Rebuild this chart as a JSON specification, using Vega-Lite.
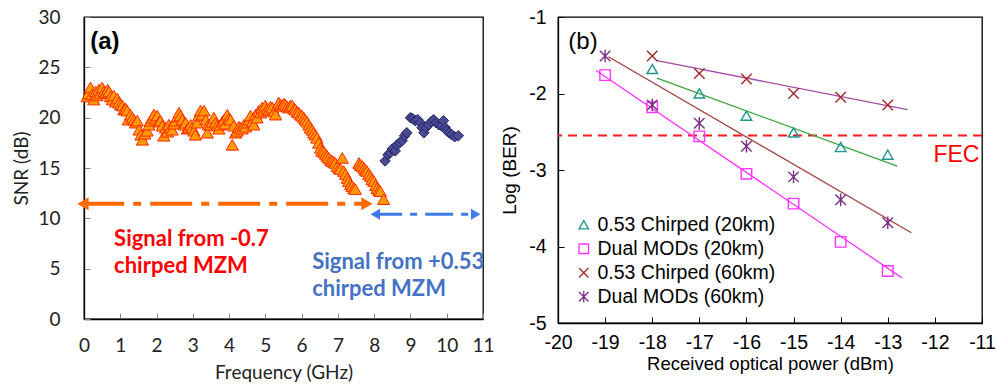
{
  "$schema": "https://vega.github.io/schema/vega-lite/v6.json",
  "padding": {"left": 12, "top": 6, "right": 0, "bottom": 0},
  "spacing": 5,
  "resolve": {"scale": {"color": "independent", "shape": "independent", "stroke": "independent"}, "legend": {"color": "independent", "shape": "independent"}},
  "config": {
    "view": {"stroke": "#000", "strokeWidth": 1.3},
    "axis": {"grid": false, "domainColor": "#000", "domainWidth": 1.3, "labelOverlap": false, "labelFlush": false}
  },
  "datasets": {
    "tri": [
      {"f":0.09,"snr":22.1},{"f":0.12,"snr":22.4},{"f":0.18,"snr":23.0},{"f":0.22,"snr":22.3},{"f":0.27,"snr":21.8},{"f":0.32,"snr":22.6},{"f":0.36,"snr":22.2},{"f":0.41,"snr":22.8},{"f":0.45,"snr":22.4},{"f":0.5,"snr":23.0},{"f":0.55,"snr":22.6},{"f":0.6,"snr":22.5},{"f":0.65,"snr":22.8},{"f":0.69,"snr":22.6},{"f":0.73,"snr":22.1},{"f":0.78,"snr":21.8},{"f":0.82,"snr":22.2},{"f":0.87,"snr":21.6},{"f":0.92,"snr":21.9},{"f":0.96,"snr":21.5},{"f":1.01,"snr":21.3},{"f":1.06,"snr":21.2},{"f":1.1,"snr":20.8},{"f":1.15,"snr":20.9},{"f":1.19,"snr":20.7},{"f":1.22,"snr":19.8},{"f":1.28,"snr":20.3},{"f":1.33,"snr":20.0},{"f":1.38,"snr":19.8},{"f":1.42,"snr":19.5},{"f":1.47,"snr":19.7},{"f":1.52,"snr":18.8},{"f":1.57,"snr":18.3},{"f":1.61,"snr":17.8},{"f":1.68,"snr":18.4},{"f":1.74,"snr":18.7},{"f":1.79,"snr":19.3},{"f":1.83,"snr":19.7},{"f":1.88,"snr":20.0},{"f":1.93,"snr":20.3},{"f":1.97,"snr":19.9},{"f":2.02,"snr":20.2},{"f":2.07,"snr":19.6},{"f":2.11,"snr":19.7},{"f":2.16,"snr":19.2},{"f":2.2,"snr":18.2},{"f":2.25,"snr":19.0},{"f":2.3,"snr":18.6},{"f":2.34,"snr":19.3},{"f":2.39,"snr":19.0},{"f":2.43,"snr":18.8},{"f":2.48,"snr":19.4},{"f":2.52,"snr":19.7},{"f":2.57,"snr":20.1},{"f":2.62,"snr":20.5},{"f":2.66,"snr":20.2},{"f":2.71,"snr":19.8},{"f":2.76,"snr":19.3},{"f":2.8,"snr":19.5},{"f":2.85,"snr":18.9},{"f":2.89,"snr":19.0},{"f":2.94,"snr":19.3},{"f":2.98,"snr":19.0},{"f":3.03,"snr":18.7},{"f":3.07,"snr":18.3},{"f":3.12,"snr":19.5},{"f":3.16,"snr":20.2},{"f":3.21,"snr":20.7},{"f":3.26,"snr":20.3},{"f":3.31,"snr":20.7},{"f":3.36,"snr":19.8},{"f":3.4,"snr":18.5},{"f":3.43,"snr":19.3},{"f":3.49,"snr":19.3},{"f":3.54,"snr":19.6},{"f":3.58,"snr":20.0},{"f":3.63,"snr":19.5},{"f":3.67,"snr":19.2},{"f":3.72,"snr":18.9},{"f":3.76,"snr":19.3},{"f":3.81,"snr":19.6},{"f":3.86,"snr":19.8},{"f":3.9,"snr":19.4},{"f":3.95,"snr":20.3},{"f":4.0,"snr":19.9},{"f":4.04,"snr":19.8},{"f":4.09,"snr":17.3},{"f":4.13,"snr":19.2},{"f":4.18,"snr":18.5},{"f":4.22,"snr":18.7},{"f":4.27,"snr":19.1},{"f":4.31,"snr":19.0},{"f":4.36,"snr":18.9},{"f":4.41,"snr":19.3},{"f":4.45,"snr":19.1},{"f":4.5,"snr":19.5},{"f":4.55,"snr":19.8},{"f":4.59,"snr":20.2},{"f":4.64,"snr":19.6},{"f":4.68,"snr":19.3},{"f":4.73,"snr":20.3},{"f":4.77,"snr":20.0},{"f":4.82,"snr":20.7},{"f":4.87,"snr":20.5},{"f":4.91,"snr":21.0},{"f":4.96,"snr":20.7},{"f":5.0,"snr":21.2},{"f":5.05,"snr":20.9},{"f":5.1,"snr":20.8},{"f":5.14,"snr":21.1},{"f":5.19,"snr":21.0},{"f":5.24,"snr":20.6},{"f":5.28,"snr":20.3},{"f":5.33,"snr":21.2},{"f":5.37,"snr":21.5},{"f":5.42,"snr":21.3},{"f":5.46,"snr":21.2},{"f":5.51,"snr":21.4},{"f":5.55,"snr":21.3},{"f":5.6,"snr":21.1},{"f":5.65,"snr":21.0},{"f":5.69,"snr":21.2},{"f":5.74,"snr":21.2},{"f":5.79,"snr":20.9},{"f":5.83,"snr":20.8},{"f":5.88,"snr":20.6},{"f":5.92,"snr":20.5},{"f":5.97,"snr":20.3},{"f":6.01,"snr":20.2},{"f":6.06,"snr":20.0},{"f":6.1,"snr":19.8},{"f":6.15,"snr":19.6},{"f":6.2,"snr":19.3},{"f":6.24,"snr":19.0},{"f":6.29,"snr":18.8},{"f":6.33,"snr":18.5},{"f":6.38,"snr":18.3},{"f":6.42,"snr":18.0},{"f":6.47,"snr":17.5},{"f":6.52,"snr":17.0},{"f":6.56,"snr":16.7},{"f":6.61,"snr":16.6},{"f":6.66,"snr":16.4},{"f":6.7,"snr":16.2},{"f":6.75,"snr":16.0},{"f":6.8,"snr":15.8},{"f":6.84,"snr":15.7},{"f":6.89,"snr":15.6},{"f":6.93,"snr":15.5},{"f":6.98,"snr":15.2},{"f":7.03,"snr":15.0},{"f":7.07,"snr":14.9},{"f":7.12,"snr":16.0},{"f":7.16,"snr":14.7},{"f":7.21,"snr":14.4},{"f":7.26,"snr":14.0},{"f":7.3,"snr":13.7},{"f":7.35,"snr":13.4},{"f":7.39,"snr":13.2},{"f":7.44,"snr":13.0},{"f":7.48,"snr":12.9},{"f":7.58,"snr":15.5},{"f":7.62,"snr":15.3},{"f":7.67,"snr":15.2},{"f":7.72,"snr":15.0},{"f":7.76,"snr":14.8},{"f":7.8,"snr":14.7},{"f":7.85,"snr":14.4},{"f":7.9,"snr":14.2},{"f":7.94,"snr":13.9},{"f":7.99,"snr":13.7},{"f":8.04,"snr":13.3},{"f":8.08,"snr":13.0},{"f":8.13,"snr":12.8},{"f":8.17,"snr":12.7},{"f":8.26,"snr":11.9}
    ],
    "dia": [
      {"f":8.3,"snr":15.7},{"f":8.38,"snr":16.3},{"f":8.44,"snr":16.5},{"f":8.5,"snr":16.9},{"f":8.58,"snr":16.7},{"f":8.63,"snr":17.3},{"f":8.7,"snr":17.5},{"f":8.77,"snr":17.7},{"f":8.84,"snr":18.2},{"f":8.9,"snr":18.5},{"f":9.0,"snr":20.0},{"f":9.06,"snr":19.9},{"f":9.13,"snr":19.7},{"f":9.2,"snr":19.8},{"f":9.27,"snr":19.5},{"f":9.32,"snr":19.0},{"f":9.37,"snr":18.5},{"f":9.43,"snr":19.0},{"f":9.5,"snr":19.3},{"f":9.57,"snr":19.6},{"f":9.64,"snr":19.8},{"f":9.71,"snr":19.5},{"f":9.78,"snr":19.3},{"f":9.85,"snr":19.2},{"f":9.91,"snr":19.7},{"f":9.96,"snr":19.0},{"f":10.0,"snr":18.7},{"f":10.07,"snr":18.5},{"f":10.14,"snr":18.3},{"f":10.22,"snr":18.1},{"f":10.32,"snr":18.2}
    ],
    "ber": [
      {"p":-18,"ber":-1.68,"s":"0.53 Chirped (20km)"},{"p":-17,"ber":-2.0,"s":"0.53 Chirped (20km)"},{"p":-16,"ber":-2.29,"s":"0.53 Chirped (20km)"},{"p":-15,"ber":-2.51,"s":"0.53 Chirped (20km)"},{"p":-14,"ber":-2.7,"s":"0.53 Chirped (20km)"},{"p":-13,"ber":-2.8,"s":"0.53 Chirped (20km)"},
      {"p":-19,"ber":-1.76,"s":"Dual MODs (20km)"},{"p":-18,"ber":-2.18,"s":"Dual MODs (20km)"},{"p":-17,"ber":-2.56,"s":"Dual MODs (20km)"},{"p":-16,"ber":-3.05,"s":"Dual MODs (20km)"},{"p":-15,"ber":-3.44,"s":"Dual MODs (20km)"},{"p":-14,"ber":-3.94,"s":"Dual MODs (20km)"},{"p":-13,"ber":-4.32,"s":"Dual MODs (20km)"},
      {"p":-18,"ber":-1.51,"s":"0.53 Chirped (60km)"},{"p":-17,"ber":-1.74,"s":"0.53 Chirped (60km)"},{"p":-16,"ber":-1.81,"s":"0.53 Chirped (60km)"},{"p":-15,"ber":-2.0,"s":"0.53 Chirped (60km)"},{"p":-14,"ber":-2.05,"s":"0.53 Chirped (60km)"},{"p":-13,"ber":-2.15,"s":"0.53 Chirped (60km)"},
      {"p":-19,"ber":-1.51,"s":"Dual MODs (60km)"},{"p":-18,"ber":-2.15,"s":"Dual MODs (60km)"},{"p":-17,"ber":-2.39,"s":"Dual MODs (60km)"},{"p":-16,"ber":-2.69,"s":"Dual MODs (60km)"},{"p":-15,"ber":-3.09,"s":"Dual MODs (60km)"},{"p":-14,"ber":-3.39,"s":"Dual MODs (60km)"},{"p":-13,"ber":-3.69,"s":"Dual MODs (60km)"}
    ],
    "fits": [
      {"p":-17.9,"ber":-1.8,"fit":"a"},{"p":-12.8,"ber":-2.95,"fit":"a"},
      {"p":-19.19,"ber":-1.7,"fit":"b"},{"p":-12.7,"ber":-4.41,"fit":"b"},
      {"p":-17.9,"ber":-1.57,"fit":"c"},{"p":-12.58,"ber":-2.21,"fit":"c"},
      {"p":-18.93,"ber":-1.52,"fit":"d"},{"p":-12.5,"ber":-3.82,"fit":"d"}
    ]
  },
  "hconcat": [
    {
      "width": 399,
      "height": 302,
      "layer": [
        {
          "data": {"name": "tri"},
          "mark": {"type": "point", "shape": "triangle-up", "filled": true, "fill": "#ff9a00", "stroke": "#ff2a00", "strokeWidth": 1, "size": 150, "opacity": 1},
          "encoding": {
            "x": {"field": "f", "type": "quantitative", "scale": {"domain": [0, 11], "nice": false},
              "axis": {"title": "Frequency (GHz)", "values": [0,1,2,3,4,5,6,7,8,9,10,11], "tickCount": 12, "labelExpr": "'' + datum.value", "labelOverlap": false, "labelFlush": false, "tickSize": -6, "tickColor": "#888", "labelFont": "Lato", "labelFontSize": 19, "labelColor": "#222", "labelPadding": 23, "titleFont": "Lato", "titleFontSize": 19, "titleFontWeight": "normal", "titleColor": "#222", "titlePadding": 8}},
            "y": {"field": "snr", "type": "quantitative", "scale": {"domain": [0, 30], "nice": false},
              "axis": {"title": "SNR (dB)", "values": [0,5,10,15,20,25,30], "labelExpr": "'' + datum.value", "labelOverlap": false, "labelFlush": false, "tickSize": -6, "tickColor": "#888", "labelFont": "Lato", "labelFontSize": 19, "labelColor": "#222", "labelPadding": 30, "titleFont": "Lato", "titleFontSize": 19, "titleFontWeight": "normal", "titleColor": "#222", "titlePadding": 6}}
          }
        },
        {
          "data": {"name": "dia"},
          "mark": {"type": "point", "shape": "diamond", "filled": true, "fill": "#4b4b8f", "stroke": "#22226e", "strokeWidth": 1, "size": 110, "opacity": 1},
          "encoding": {
            "x": {"field": "f", "type": "quantitative"},
            "y": {"field": "snr", "type": "quantitative"}
          }
        },
        {
          "data": {"values": [{"f": -0.05, "f2": 7.8, "snr": 11.45}]},
          "mark": {"type": "rule", "color": "#ff6a00", "strokeWidth": 4, "strokeDash": [42, 9, 8, 9]},
          "encoding": {
            "x": {"field": "f", "type": "quantitative"},
            "x2": {"field": "f2"},
            "y": {"field": "snr", "type": "quantitative"}
          }
        },
        {
          "data": {"values": [{"f": -0.03, "snr": 11.45}]},
          "mark": {"type": "point", "shape": "triangle-left", "filled": true, "color": "#ff6a00", "size": 170, "opacity": 1},
          "encoding": {
            "x": {"field": "f", "type": "quantitative"},
            "y": {"field": "snr", "type": "quantitative"}
          }
        },
        {
          "data": {"values": [{"f": 7.8, "snr": 11.45}]},
          "mark": {"type": "point", "shape": "triangle-right", "filled": true, "color": "#ff6a00", "size": 170, "opacity": 1},
          "encoding": {
            "x": {"field": "f", "type": "quantitative"},
            "y": {"field": "snr", "type": "quantitative"}
          }
        },
        {
          "data": {"values": [{"f": 8.0, "f2": 10.8, "snr": 10.4}]},
          "mark": {"type": "rule", "color": "#3f7be8", "strokeWidth": 3, "strokeDash": [28, 8, 7, 8]},
          "encoding": {
            "x": {"field": "f", "type": "quantitative"},
            "x2": {"field": "f2"},
            "y": {"field": "snr", "type": "quantitative"}
          }
        },
        {
          "data": {"values": [{"f": 8.03, "snr": 10.4}]},
          "mark": {"type": "point", "shape": "triangle-left", "filled": true, "color": "#3f7be8", "size": 120, "opacity": 1},
          "encoding": {
            "x": {"field": "f", "type": "quantitative"},
            "y": {"field": "snr", "type": "quantitative"}
          }
        },
        {
          "data": {"values": [{"f": 10.8, "snr": 10.4}]},
          "mark": {"type": "point", "shape": "triangle-right", "filled": true, "color": "#3f7be8", "size": 120, "opacity": 1},
          "encoding": {
            "x": {"field": "f", "type": "quantitative"},
            "y": {"field": "snr", "type": "quantitative"}
          }
        },
        {
          "data": {"values": [{"f": 0.83, "snr": 7.25, "t": "Signal from -0.7"}, {"f": 0.83, "snr": 4.6, "t": "chirped MZM"}]},
          "mark": {"type": "text", "align": "left", "baseline": "alphabetic", "font": "Lato", "fontSize": 22, "fontWeight": "bold", "color": "#ff0000"},
          "encoding": {
            "x": {"field": "f", "type": "quantitative"},
            "y": {"field": "snr", "type": "quantitative"},
            "text": {"field": "t"}
          }
        },
        {
          "data": {"values": [{"f": 6.29, "snr": 4.93, "t": "Signal from +0.53"}, {"f": 6.29, "snr": 2.28, "t": "chirped MZM"}]},
          "mark": {"type": "text", "align": "left", "baseline": "alphabetic", "font": "Lato", "fontSize": 22, "fontWeight": "bold", "color": "#4472c4"},
          "encoding": {
            "x": {"field": "f", "type": "quantitative"},
            "y": {"field": "snr", "type": "quantitative"},
            "text": {"field": "t"}
          }
        },
        {
          "data": {"values": [{"f": 0.17, "snr": 26.8, "t": "(a)"}]},
          "mark": {"type": "text", "align": "left", "baseline": "alphabetic", "font": "Liberation Sans", "fontSize": 24, "fontWeight": "bold", "color": "#000"},
          "encoding": {
            "x": {"field": "f", "type": "quantitative"},
            "y": {"field": "snr", "type": "quantitative"},
            "text": {"field": "t"}
          }
        }
      ]
    },
    {
      "width": 424,
      "height": 306,
      "layer": [
        {
          "data": {"values": [{"ber": -2.55}]},
          "mark": {"type": "rule", "color": "#ff1a1a", "strokeWidth": 2, "strokeDash": [9, 6]},
          "encoding": {
            "y": {"field": "ber", "type": "quantitative", "scale": {"domain": [-5, -1], "nice": false},
              "axis": {"title": "Log (BER)", "values": [-5,-4,-3,-2,-1], "labelExpr": "'' + datum.value", "labelOverlap": false, "labelFlush": false, "tickSize": -6, "tickColor": "#000", "labelFont": "Liberation Sans", "labelFontSize": 19.5, "labelColor": "#000", "labelPadding": 18, "titleFont": "Liberation Sans", "titleFontSize": 19, "titleFontWeight": "normal", "titleColor": "#000", "titlePadding": 9}}
          }
        },
        {
          "data": {"name": "fits"},
          "mark": {"type": "line", "strokeWidth": 1.3},
          "encoding": {
            "x": {"field": "p", "type": "quantitative", "scale": {"domain": [-20, -11], "nice": false},
              "axis": {"title": "Received optical power (dBm)", "values": [-20,-19,-18,-17,-16,-15,-14,-13,-12,-11], "labelExpr": "'' + datum.value", "labelOverlap": false, "labelFlush": false, "tickSize": -6, "tickColor": "#000", "labelFont": "Liberation Sans", "labelFontSize": 19.5, "labelColor": "#000", "labelPadding": 16, "titleFont": "Liberation Sans", "titleFontSize": 18.5, "titleFontWeight": "normal", "titleColor": "#000", "titlePadding": 3}},
            "y": {"field": "ber", "type": "quantitative"},
            "stroke": {"field": "fit", "type": "nominal", "scale": {"domain": ["a", "b", "c", "d"], "range": ["#3aa43a", "#ff33ff", "#a64ca6", "#a0413c"]}, "legend": null}
          }
        },
        {
          "data": {"name": "ber"},
          "mark": {"type": "point", "filled": false, "strokeWidth": 1.4, "size": 110, "opacity": 1},
          "encoding": {
            "x": {"field": "p", "type": "quantitative"},
            "y": {"field": "ber", "type": "quantitative"},
            "color": {"field": "s", "type": "nominal", "scale": {"domain": ["0.53 Chirped (20km)", "Dual MODs (20km)", "0.53 Chirped (60km)", "Dual MODs (60km)"], "range": ["#1f9590", "#ff33ff", "#a0282a", "#7b2d86"]},
              "legend": {"title": null, "orient": "bottom-left", "offset": 16, "labelFont": "Liberation Sans", "labelFontSize": 19.5, "labelColor": "#000", "labelLimit": 400, "symbolSize": 90, "symbolStrokeWidth": 1.3, "rowPadding": 3, "labelOffset": 4, "padding": 0}},
            "shape": {"field": "s", "type": "nominal", "scale": {"domain": ["0.53 Chirped (20km)", "Dual MODs (20km)", "0.53 Chirped (60km)", "Dual MODs (60km)"], "range": ["triangle-up", "square", "M-1,-1L1,1M-1,1L1,-1", "M-1,-1L1,1M-1,1L1,-1M0,-1.2L0,1.2"]}}
          }
        },
        {
          "data": {"values": [{"p": -12.03, "ber": -2.895, "t": "FEC"}, {"p": -19.78, "ber": -1.42, "t": "(b)"}]},
          "mark": {"type": "text", "align": "left", "baseline": "alphabetic", "font": "Liberation Sans"},
          "encoding": {
            "x": {"field": "p", "type": "quantitative"},
            "y": {"field": "ber", "type": "quantitative"},
            "text": {"field": "t"},
            "color": {"condition": {"test": "datum.t === 'FEC'", "value": "#ff0000"}, "value": "#000"},
            "size": {"condition": {"test": "datum.t === 'FEC'", "value": 23}, "value": 24},
            "fontWeight": {"condition": {"test": "datum.t === 'FEC'", "value": "normal"}, "value": "bold"}
          }
        }
      ]
    }
  ]
}
